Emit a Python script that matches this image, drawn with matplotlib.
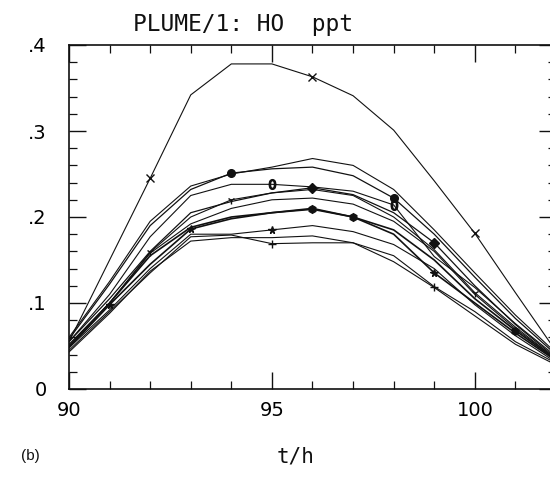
import matplotlib
matplotlib.use("Agg")
import matplotlib.pyplot as plt
from matplotlib.ticker import MultipleLocator, FixedLocator
import numpy as np

# time axis (hours) and HO mixing ratio (ppt) for each plume run
hours = [90, 91, 92, 93, 94, 95, 96, 97, 98, 99, 100, 101, 102]

run_a = [0.055, 0.150, 0.245, 0.342, 0.378, 0.378, 0.363, 0.341, 0.301, 0.242, 0.181, 0.112, 0.044]
run_b = [0.060, 0.125, 0.195, 0.236, 0.250, 0.258, 0.268, 0.260, 0.232, 0.185, 0.135, 0.086, 0.042]
run_c = [0.058, 0.122, 0.190, 0.232, 0.251, 0.256, 0.258, 0.248, 0.222, 0.180, 0.130, 0.082, 0.040]
run_d = [0.055, 0.110, 0.177, 0.225, 0.238, 0.238, 0.235, 0.230, 0.214, 0.154, 0.118, 0.076, 0.038]
run_e = [0.055, 0.105, 0.160, 0.205, 0.218, 0.228, 0.234, 0.226, 0.205, 0.170, 0.120, 0.075, 0.036]
run_f = [0.052, 0.100, 0.159, 0.200, 0.220, 0.228, 0.232, 0.225, 0.200, 0.162, 0.112, 0.072, 0.035]
run_g = [0.050, 0.100, 0.155, 0.188, 0.200, 0.205, 0.209, 0.200, 0.185, 0.150, 0.105, 0.068, 0.034]
run_h = [0.048, 0.098, 0.145, 0.186, 0.198, 0.205, 0.210, 0.200, 0.180, 0.135, 0.100, 0.065, 0.033]
run_i = [0.050, 0.100, 0.158, 0.192, 0.210, 0.220, 0.222, 0.215, 0.195, 0.160, 0.110, 0.070, 0.035]
run_j = [0.048, 0.092, 0.140, 0.180, 0.180, 0.185, 0.190, 0.183, 0.168, 0.140, 0.098, 0.062, 0.031]
run_k = [0.045, 0.090, 0.135, 0.177, 0.179, 0.169, 0.170, 0.170, 0.155, 0.119, 0.090, 0.055, 0.030]
run_l = [0.043, 0.088, 0.137, 0.172, 0.176, 0.176, 0.178, 0.170, 0.148, 0.118, 0.085, 0.052, 0.028]

# (values, marker, hours where the marker sits, line width)
runs = [
    (run_a, "x", [92, 96, 100], 0.8),
    (run_b, None, [], 0.8),
    (run_c, "o", [94, 98], 0.9),
    (run_d, "$0$", [95, 98], 0.8),
    (run_e, "D", [96, 99], 0.9),
    (run_f, "1", [92, 94, 100], 0.8),
    (run_g, "h", [96, 97, 101], 1.2),
    (run_h, "*", [91, 93, 99], 1.2),
    (run_i, None, [], 0.8),
    (run_j, "*", [95], 0.8),
    (run_k, "+", [95, 99], 0.8),
    (run_l, None, [], 0.8),
]

W, H = 550, 483
fig = plt.figure(figsize=(W / 100, H / 100), dpi=100)
ax = fig.add_axes([69 / W, 1 - 389 / H, (556 - 69) / W, (389 - 45) / H])

ink = "#111111"
for vals, mk, mk_hours, lw in runs:
    ax.plot(hours, vals, color=ink, linewidth=lw, solid_joinstyle="miter")
    if mk:
        mv = [vals[hours.index(h)] for h in mk_hours]
        ms = 7 if mk == "$0$" else 5.5
        ax.plot(mk_hours, mv, linestyle="none", marker=mk, markersize=ms,
                color=ink, markeredgewidth=1.0)

ax.set_xlim(90, 102)
ax.set_ylim(0, 0.4)

for s in ax.spines.values():
    s.set_linewidth(1.2)
    s.set_color(ink)

ax.xaxis.set_major_locator(FixedLocator([90, 95, 100]))
ax.xaxis.set_minor_locator(MultipleLocator(1))
ax.yaxis.set_major_locator(FixedLocator([0, 0.1, 0.2, 0.3, 0.4]))
ax.yaxis.set_minor_locator(MultipleLocator(0.02))
ax.set_xticklabels(["90", "95", "100"])
ax.set_yticklabels(["0", ".1", ".2", ".3", ".4"])

ax.tick_params(which="both", direction="in", top=True, right=True, color=ink)
ax.tick_params(which="major", length=12, width=1.0)
ax.tick_params(which="minor", length=5.5, width=0.9)
ax.tick_params(axis="x", labelsize=14, pad=9)
ax.tick_params(axis="y", labelsize=14, pad=16)

fig.text(243 / W, 1 - 25 / H, "PLUME/1: HO  ppt", ha="center", va="center",
         fontsize=16.5, color=ink, family="DejaVu Sans Mono")
fig.text(296 / W, 1 - 456 / H, "t/h", ha="center", va="center", fontsize=15,
         color=ink, family="DejaVu Sans Mono")
fig.text(30 / W, 1 - 456 / H, "(b)", ha="center", va="center", fontsize=11,
         color=ink, family="Liberation Sans")

fig.savefig("out.png", dpi=100)
